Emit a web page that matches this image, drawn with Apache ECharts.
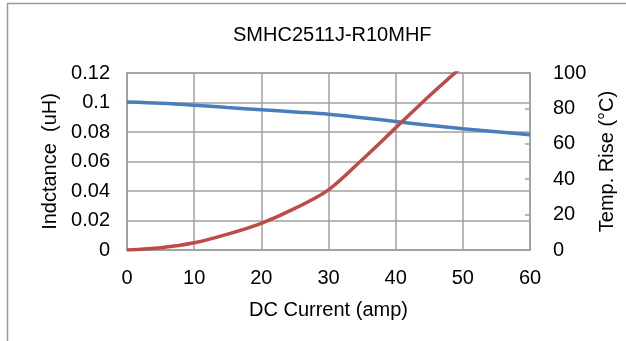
<!DOCTYPE html>
<html>
<head>
<meta charset="utf-8">
<script src="https://cdn.jsdelivr.net/npm/echarts@6/dist/echarts.min.js"></script>
<style>
html,body{margin:0;padding:0;background:#fff;}
#c{width:626px;height:341px;}
</style>
</head>
<body>
<div id="c"></div>
<script>
const titleText = 'SMHC2511J-R10MHF';
const current = [0, 5, 10, 15, 20, 25, 30, 35, 40, 45, 50, 55, 60];
const inductance = [0.1003, 0.0995, 0.0982, 0.0966, 0.0951, 0.0936, 0.0921, 0.0897, 0.0871, 0.0845, 0.0822, 0.0802, 0.0781];
const tempCurrent = [0, 5, 10, 15, 20, 25, 30, 35, 40, 45, 50];
const tempRise = [0, 1.3, 4.1, 9, 15.1, 23.5, 34, 51, 69, 87, 104];

const chart = echarts.init(document.getElementById('c'), null, {renderer: 'canvas'});
const FONT = 'Liberation Sans, Arial, sans-serif';
const GRAY = '#a0a0a0';
const FS = 20;
chart.setOption({
  animation: false,
  backgroundColor: '#fff',
  graphic: [{
    type: 'rect', silent: true,
    shape: {x: 7.5, y: 3.5, width: 800, height: 500},
    style: {fill: 'none', stroke: '#9a9a9a', lineWidth: 1.5}
  }],
  title: {
    text: titleText, left: 228, top: 20,
    textStyle: {fontFamily: FONT, fontSize: FS, fontWeight: 'normal', color: '#000'}
  },
  grid: {left: 127, right: 96, top: 73, bottom: 91, show: true, borderColor: GRAY, borderWidth: 1.5},
  xAxis: {
    type: 'value', min: 0, max: 60, interval: 10,
    name: 'DC Current (amp)', nameLocation: 'middle', nameGap: 50,
    nameTextStyle: {fontFamily: FONT, fontSize: FS, color: '#000'},
    axisLine: {show: true, lineStyle: {color: GRAY, width: 1.5}},
    axisTick: {show: false},
    axisLabel: {fontFamily: FONT, fontSize: FS, color: '#000', margin: 18},
    splitLine: {show: true, lineStyle: {color: GRAY, width: 1.5}}
  },
  yAxis: [{
    type: 'value', min: 0, max: 0.12, interval: 0.02, position: 'left',
    name: 'Indctance  (uH)', nameLocation: 'middle', nameGap: 61,
    nameTextStyle: {fontFamily: FONT, fontSize: FS, color: '#000'},
    axisLine: {show: true, lineStyle: {color: GRAY, width: 1.5}},
    axisTick: {show: false},
    axisLabel: {fontFamily: FONT, fontSize: FS, color: '#000', margin: 17},
    splitLine: {show: true, lineStyle: {color: GRAY, width: 1.5}}
  }, {
    type: 'value', min: 0, max: 100, interval: 20, position: 'right',
    name: 'Temp. Rise (°C)', nameLocation: 'middle', nameGap: 62, nameRotate: 90,
    nameTextStyle: {fontFamily: FONT, fontSize: FS, color: '#000'},
    axisLine: {show: true, lineStyle: {color: GRAY, width: 1.5}},
    axisTick: {show: true, inside: true, length: 5, lineStyle: {color: GRAY, width: 1.5}},
    axisLabel: {fontFamily: FONT, fontSize: FS, color: '#000', margin: 23},
    splitLine: {show: false}
  }],
  series: [{
    type: 'line', yAxisIndex: 0, smooth: 0.3, symbol: 'none', clip: true,
    data: current.map((x, i) => [x, inductance[i]]),
    lineStyle: {color: '#4a7ebb', width: 3.5}
  }, {
    type: 'line', yAxisIndex: 1, smooth: 0.3, symbol: 'none', clip: true,
    data: tempCurrent.map((x, i) => [x, tempRise[i]]),
    lineStyle: {color: '#be4b48', width: 3.5}
  }]
});
</script>
</body>
</html>
